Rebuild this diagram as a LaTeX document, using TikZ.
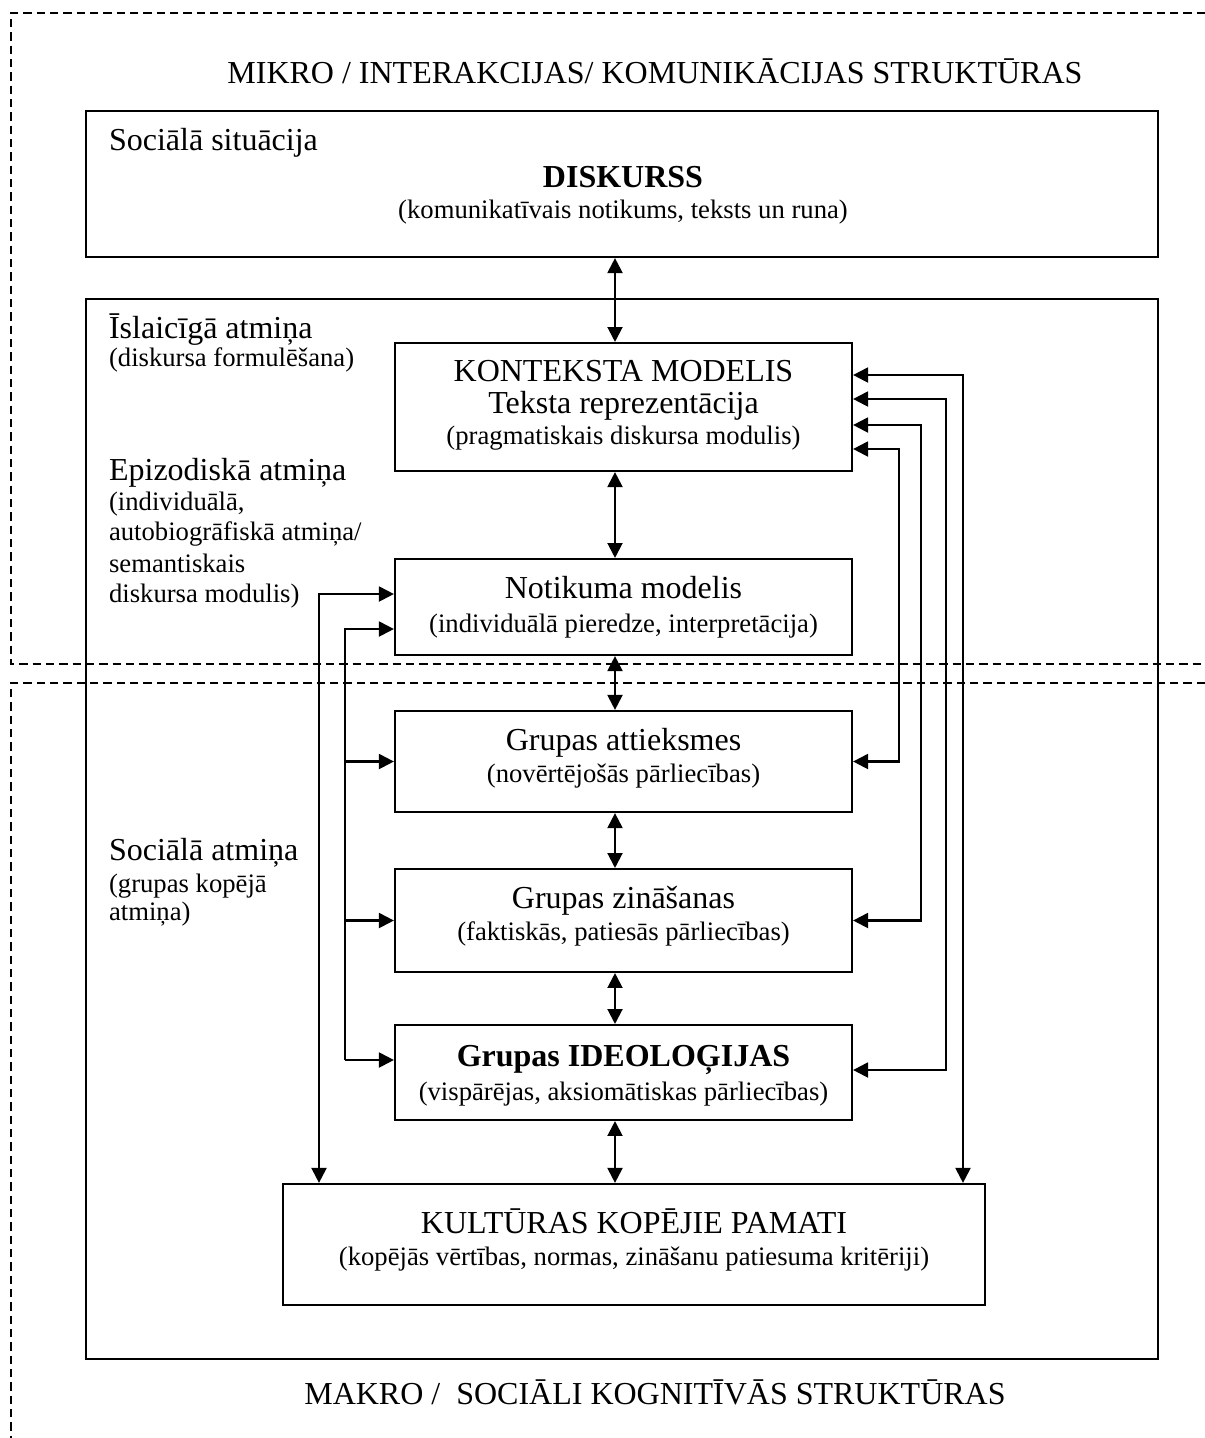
\documentclass[tikz,border=0pt]{standalone}
\usepackage{fontspec}
\setmainfont{Liberation Serif}
\usetikzlibrary{arrows.meta}
\tikzset{
  blok/.style={draw,line width=0.8pt,inner sep=0pt},
  liels/.style={font=\fontsize{12}{14}\selectfont,inner sep=0pt},
  mazs/.style={font=\fontsize{10}{12}\selectfont,inner sep=0pt},
  svitra/.style={line width=0.55pt,dash pattern=on 3.1pt off 1.9pt}
}
\begin{document}
\begin{tikzpicture}[x=0.375pt,y=-0.375pt,line width=0.8pt,>={Triangle[length=5.6pt,width=5.6pt]}]
	\useasboundingbox (0,0) rectangle (1205,1438);
	% mikro / makro robezas
	\draw[svitra] (1205,13) -- (11,13) -- (11,664) -- (1205,664);
	\draw[svitra] (1205,683) -- (11,683) -- (11,1438);
	% kastes
	\node[blok,minimum width=402pt,minimum height=54.75pt] (situacija) at (622,184) {};
	\node[blok,minimum width=402pt,minimum height=397.5pt] (atmina) at (622,829) {};
	\node[blok,minimum width=171.4pt,minimum height=48pt] (konteksts) at (623.5,407) {};
	\node[blok,minimum width=171.4pt,minimum height=36pt] (notikums) at (623.5,607) {};
	\node[blok,minimum width=171.4pt,minimum height=37.9pt] (attieksmes) at (623.5,761.5) {};
	\node[blok,minimum width=171.4pt,minimum height=38.6pt] (zinasanas) at (623.5,920.5) {};
	\node[blok,minimum width=171.4pt,minimum height=35.6pt] (ideologijas) at (623.5,1072.5) {};
	\node[blok,minimum width=263.25pt,minimum height=45.4pt] (kultura) at (634,1244.5) {};
	% vidus bultas
	\coordinate (ass) at (615,0);
	\foreach \a/\b in {situacija/konteksts,konteksts/notikums,notikums/attieksmes,attieksmes/zinasanas,zinasanas/ideologijas,ideologijas/kultura}
		\draw[<->] (ass |- \a.south) -- (ass |- \b.north);
	% kreisas bultas
	\coordinate (kA) at (319,594);
	\coordinate (kB) at (345,629);
	\coordinate (kC) at (345,1060);
	\draw[<->] (kA |- kultura.north) -- (kA) -- (kA -| notikums.west);
	\draw[->] (kC) -- (kB) -- (kB -| notikums.west);
	\draw[->] (kB |- attieksmes.west) -- (attieksmes.west);
	\draw[->] (kB |- zinasanas.west) -- (zinasanas.west);
	\draw[->] (kC) -- (kC -| ideologijas.west);
	% labas bultas
	\coordinate (lA) at (963,375);
	\coordinate (lB) at (946,399);
	\coordinate (lB2) at (946,1070);
	\coordinate (lC) at (921,425);
	\coordinate (lD) at (899,449);
	\draw[<->] (lA -| konteksts.east) -- (lA) -- (lA |- kultura.north);
	\draw[<->] (lB -| konteksts.east) -- (lB) -- (lB2) -- (lB2 -| ideologijas.east);
	\draw[<->] (lC -| konteksts.east) -- (lC) -- (lC |- zinasanas.east) -- (zinasanas.east);
	\draw[<->] (lD -| konteksts.east) -- (lD) -- (lD |- attieksmes.east) -- (attieksmes.east);
	% teksti
	\node[liels,anchor=base] (mikro) at (655,83) {MIKRO / INTERAKCIJAS/ KOMUNIKĀCIJAS STRUKTŪRAS};
	\node[liels,anchor=base west] (sitnos) at (108,150) {Sociālā situācija};
	\node[liels,anchor=base] (disknos) at (623,187) {\bfseries DISKURSS};
	\node[mazs,anchor=base] (diskpask) at (623,218) {(komunikatīvais notikums, teksts un runa)};
	\node[liels,anchor=base west] (islnos) at (108,338) {Īslaicīgā atmiņa};
	\node[mazs,anchor=base west] (islpask) at (108,366) {(diskursa formulēšana)};
	\node[liels,anchor=base] (kontnos) at (623.5,381) {KONTEKSTA MODELIS};
	\node[liels,anchor=base] (kontnos2) at (623.5,413) {Teksta reprezentācija};
	\node[mazs,anchor=base] (kontpask) at (623.5,444) {(pragmatiskais diskursa modulis)};
	\node[liels,anchor=base west] (epinos) at (108,480) {Epizodiskā atmiņa};
	\node[mazs,anchor=base west] (epi1) at (108,510) {(individuālā,};
	\node[mazs,anchor=base west] (epi2) at (108,540) {autobiogrāfiskā atmiņa/};
	\node[mazs,anchor=base west] (epi3) at (108,572) {semantiskais};
	\node[mazs,anchor=base west] (epi4) at (108,602) {diskursa modulis)};
	\node[liels,anchor=base] (notnos) at (623.5,598) {Notikuma modelis};
	\node[mazs,anchor=base] (notpask) at (623.5,632) {(individuālā pieredze, interpretācija)};
	\node[liels,anchor=base] (attnos) at (623.5,750) {Grupas attieksmes};
	\node[mazs,anchor=base] (attpask) at (623.5,782) {(novērtējošās pārliecības)};
	\node[liels,anchor=base] (zinnos) at (623.5,908) {Grupas zināšanas};
	\node[mazs,anchor=base] (zinpask) at (623.5,940) {(faktiskās, patiesās pārliecības)};
	\node[liels,anchor=base] (idnos) at (623.5,1066) {\bfseries Grupas IDEOLOĢIJAS};
	\node[mazs,anchor=base] (idpask) at (623.5,1100) {(vispārējas, aksiomātiskas pārliecības)};
	\node[liels,anchor=base] (kultnos) at (634,1233) {KULTŪRAS KOPĒJIE PAMATI};
	\node[mazs,anchor=base] (kultpask) at (634,1265) {(kopējās vērtības, normas, zināšanu patiesuma kritēriji)};
	\node[liels,anchor=base west] (socnos) at (108,860) {Sociālā atmiņa};
	\node[mazs,anchor=base west] (soc1) at (108,892) {(grupas kopējā};
	\node[mazs,anchor=base west] (soc2) at (108,920) {atmiņa)};
	\node[liels,anchor=base] (makro) at (655,1404) {MAKRO /\ \ SOCIĀLI KOGNITĪVĀS STRUKTŪRAS};
\end{tikzpicture}
\end{document}
